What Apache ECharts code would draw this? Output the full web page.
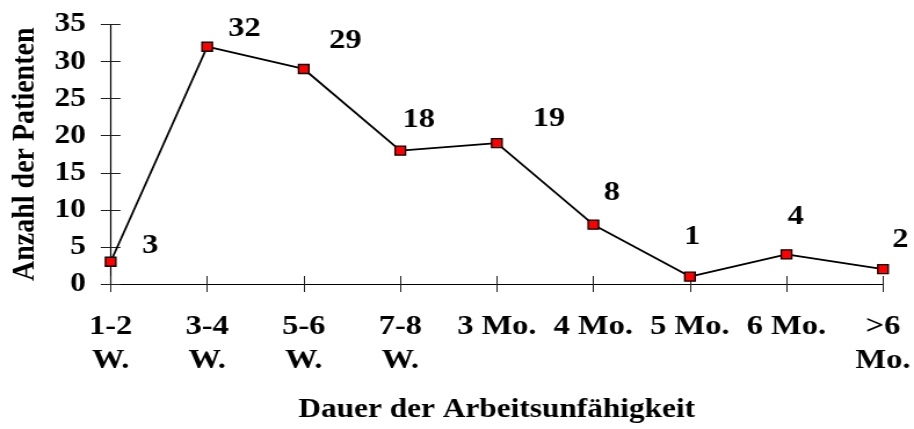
<!DOCTYPE html>
<html>
<head>
<meta charset="utf-8">
<script src="https://cdn.jsdelivr.net/npm/echarts@6/dist/echarts.min.js"></script>
<style>
  html, body { margin: 0; padding: 0; background: #fff; overflow: hidden; }
  #stage { width: 914px; height: 429px; overflow: hidden; }
  /* the chart is drawn at a narrower width and widened horizontally */
  #chart { width: 788px; height: 429px; transform: scaleX(1.1599); transform-origin: 0 0; }
</style>
</head>
<body>
<div id="stage"><div id="chart"></div></div>
<script>
// Duration of incapacity to work (categories) and number of patients
const categories = ['1-2\nW.', '3-4\nW.', '5-6\nW.', '7-8\nW.', '3 Mo.', '4 Mo.', '5 Mo.', '6 Mo.', '>6\nMo.'];
const patients = [3, 32, 29, 18, 19, 8, 1, 4, 2];
const yMin = 0;
const yMax = 35;
const yStep = 5;
const xTitle = 'Dauer der Arbeitsunfähigkeit';
const yTitle = 'Anzahl der Patienten';

const FONT = 'Liberation Serif';

// per-point nudges for the value labels, which sit up and to the right of each marker
const labelNudges = [[34, -16], [32, -18], [36, -28], [16, -31], [45, -24], [16, -32], [2, -40], [8, -38], [15, -29]];

const chart = echarts.init(document.getElementById('chart'), null, { renderer: 'canvas' });

const tickStyle = { color: '#222', width: 1 };

chart.setOption({
  animation: false,
  backgroundColor: '#ffffff',
  grid: { left: 92, right: 22.5, top: 24.5, bottom: 141.5, containLabel: false },
  xAxis: [
    {
      type: 'category',
      data: categories,
      boundaryGap: false,
      position: 'bottom',
      axisLine: { show: true, lineStyle: { color: '#000', width: 1.2 } },
      axisTick: { show: true, inside: false, length: 8, lineStyle: tickStyle },
      axisLabel: {
        interval: 0,
        margin: 26,
        fontFamily: FONT,
        fontWeight: 'bold',
        fontSize: 28,
        lineHeight: 34,
        color: '#000'
      },
      splitLine: { show: false },
      name: xTitle,
      nameLocation: 'middle',
      nameGap: 113,
      nameTextStyle: { fontFamily: FONT, fontWeight: 'bold', fontSize: 27, color: '#000' }
    },
    {
      // inner half of the x ticks, so the ticks cross the axis line
      type: 'category',
      data: categories,
      boundaryGap: false,
      position: 'bottom',
      axisLine: { show: false },
      axisTick: { show: true, inside: true, length: 8, lineStyle: tickStyle },
      axisLabel: { show: false },
      splitLine: { show: false }
    }
  ],
  yAxis: [
    {
      type: 'value',
      min: yMin,
      max: yMax,
      interval: yStep,
      position: 'left',
      axisLine: { show: true, lineStyle: { color: '#000', width: 1.2 } },
      axisTick: { show: true, inside: false, length: 8.5, lineStyle: tickStyle },
      axisLabel: {
        margin: 21.5,
        fontFamily: FONT,
        fontWeight: 'bold',
        fontSize: 27,
        color: '#000'
      },
      splitLine: { show: false },
      name: yTitle,
      nameLocation: 'middle',
      nameGap: 59,
      nameRotate: 90,
      nameTextStyle: { fontFamily: FONT, fontWeight: 'bold', fontSize: 28, color: '#000' }
    },
    {
      // inner half of the y ticks
      type: 'value',
      min: yMin,
      max: yMax,
      interval: yStep,
      position: 'left',
      axisLine: { show: false },
      axisTick: { show: true, inside: true, length: 8.5, lineStyle: tickStyle },
      axisLabel: { show: false },
      splitLine: { show: false }
    }
  ],
  series: [
    {
      type: 'line',
      xAxisIndex: 0,
      yAxisIndex: 0,
      data: patients.map((v, i) => ({
        value: v,
        label: { offset: labelNudges[i] }
      })),
      lineStyle: { color: '#000', width: 1.8 },
      symbol: 'rect',
      symbolSize: [9, 9],
      itemStyle: { color: '#ff0000', borderColor: '#000', borderWidth: 1.3 },
      label: {
        show: true,
        position: 'inside',
        fontFamily: FONT,
        fontWeight: 'bold',
        fontSize: 28,
        color: '#000'
      },
      emphasis: { disabled: true },
      z: 3
    }
  ]
});
</script>
</body>
</html>
